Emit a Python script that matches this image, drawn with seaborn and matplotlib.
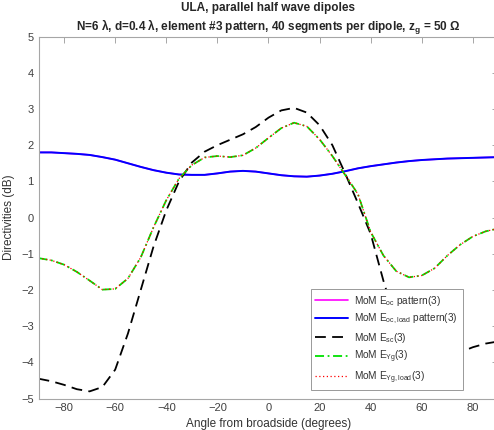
"""
ULA element pattern directivities, redrawn with seaborn.
"""

import pandas as pd
import matplotlib
matplotlib.use("Agg")
import matplotlib.pyplot as plt
import seaborn as sns

# Angle grid (degrees from broadside)
ANGLES = [-90, -85, -80, -75, -70, -65, -60, -55, -50, -45, -40, -35, -30,
          -25, -20, -15, -10, -5, 0, 5, 10, 15, 20, 25, 30, 35, 40, 45, 50,
          55, 60, 65, 70, 75, 80, 85, 90]

# Directivities in dB
E_OC = [1.80, 1.80, 1.78, 1.76, 1.73, 1.67, 1.60, 1.50, 1.40, 1.31, 1.24,
        1.19, 1.18, 1.18, 1.22, 1.27, 1.29, 1.27, 1.22, 1.17, 1.14, 1.13,
        1.16, 1.21, 1.28, 1.36, 1.42, 1.47, 1.52, 1.56, 1.59, 1.61, 1.63,
        1.64, 1.65, 1.66, 1.67]
E_OC_LOAD = E_OC  # overlaps the open-circuit pattern
E_SC = [-4.45, -4.52, -4.62, -4.74, -4.80, -4.68, -4.20, -3.20, -2.00, -0.80,
        0.20, 1.00, 1.52, 1.82, 2.00, 2.15, 2.30, 2.50, 2.76, 2.96, 3.03,
        2.90, 2.55, 2.00, 1.22, 0.40, -0.45, -1.75, -2.90, -3.65, -4.05,
        -4.10, -3.95, -3.72, -3.58, -3.48, -3.42]
E_YG = [-1.12, -1.18, -1.30, -1.50, -1.74, -1.99, -1.97, -1.68, -1.10, -0.27,
        0.48, 1.08, 1.45, 1.66, 1.70, 1.67, 1.72, 1.92, 2.20, 2.47, 2.62,
        2.52, 2.16, 1.70, 1.18, 0.65, -0.40, -1.05, -1.48, -1.65, -1.60,
        -1.40, -1.05, -0.75, -0.52, -0.38, -0.30]
E_YG_LOAD = E_YG  # overlaps the E_Yg pattern

LABELS = [r"MoM E$_{oc}$ pattern(3)",
          r"MoM E$_{oc,load}$ pattern(3)",
          r"MoM E$_{sc}$(3)",
          r"MoM E$_{Yg}$(3)",
          r"MoM E$_{Yg,load}$(3)"]

XTICKS = [-80, -60, -40, -20, 0, 20, 40, 60, 80]
YTICKS = [-5, -4, -3, -2, -1, 0, 1, 2, 3, 4, 5]

sns.set_style("white")
plt.rcParams['font.family'] = ['Liberation Sans', 'DejaVu Sans']
plt.rcParams['mathtext.default'] = 'regular'

df = pd.DataFrame({
    'angle': ANGLES,
    'oc': E_OC,
    'oc_load': E_OC_LOAD,
    'sc': E_SC,
    'yg': E_YG,
    'yg_load': E_YG_LOAD,
})

fig = plt.figure(figsize=(4.94, 4.30), dpi=100)
ax = fig.add_axes([0.078, 0.073, 0.931, 0.842])

sns.lineplot(data=df, x='angle', y='oc', ax=ax, color='#ff00ff', lw=1.2,
             label=LABELS[0])
sns.lineplot(data=df, x='angle', y='oc_load', ax=ax, color='#0000ff', lw=1.4,
             label=LABELS[1])
sns.lineplot(data=df, x='angle', y='sc', ax=ax, color='black', lw=1.3,
             dashes=(6, 3.5), label=LABELS[2])
sns.lineplot(data=df, x='angle', y='yg', ax=ax, color='#00e000', lw=1.3,
             dashes=(5, 2, 1, 2), label=LABELS[3])
sns.lineplot(data=df, x='angle', y='yg_load', ax=ax, color='#ff0000', lw=0.9,
             dashes=(1, 2), label=LABELS[4])

ax.set_xlim(-90, 90)
ax.set_ylim(-5, 5)
ax.set_xticks(XTICKS)
ax.set_yticks(YTICKS)
ax.tick_params(direction='in', length=4, width=0.6, colors='0.6',
               labelcolor='0.25', labelsize=8, top=True, right=True)
for s in ax.spines.values():
    s.set_color('0.65')
    s.set_linewidth(0.8)

ax.set_xlabel('Angle from broadside (degrees)', fontsize=8.5, color='0.2',
              labelpad=3)
ax.set_ylabel('Directivities (dB)', fontsize=8.5, color='0.2', labelpad=4)
ax.set_title("ULA, parallel half wave dipoles\n"
             "N=6 λ, d=0.4 λ, element #3 pattern, 40 segments per dipole, "
             r"z$_g$ = 50 Ω",
             fontsize=8.5, fontweight='bold', pad=4, linespacing=1.3)

leg = ax.legend(loc='lower right', bbox_to_anchor=(0.922, 0.023),
                fontsize=7.2, frameon=True, fancybox=False,
                framealpha=1, edgecolor='0.6', handlelength=3.3,
                borderaxespad=0, labelspacing=0.42, borderpad=0.45,
                handletextpad=0.6)
leg.get_frame().set_linewidth(0.7)
for t in leg.get_texts():
    t.set_color('0.2')

fig.savefig('out.png', dpi=100)
